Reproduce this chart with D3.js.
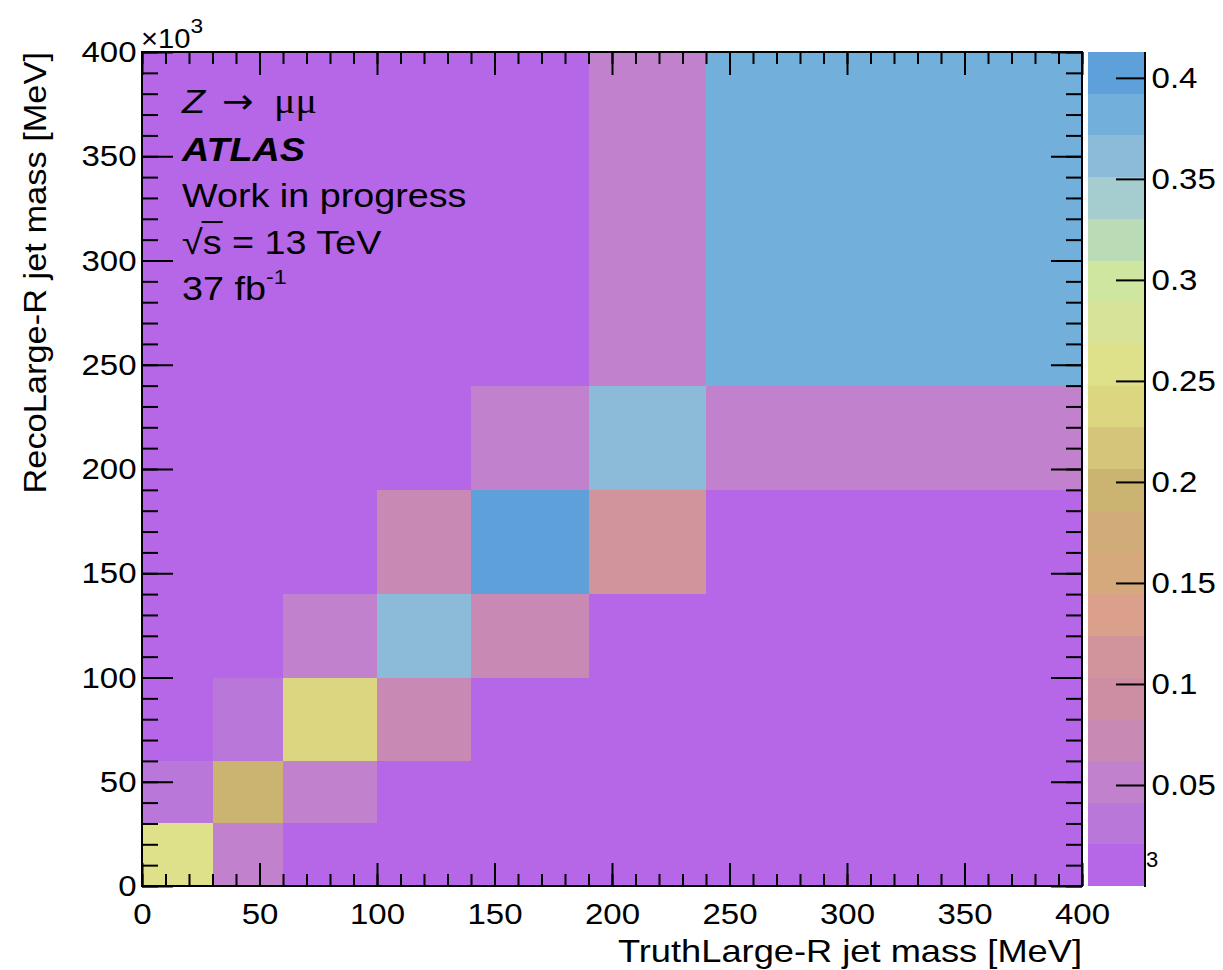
<!DOCTYPE html>
<html>
<head>
<meta charset="utf-8">
<script src="https://cdn.jsdelivr.net/npm/d3@7"></script>
<style>
  html, body { margin: 0; padding: 0; background: #fff; }
  svg { display: block; font-family: "Liberation Sans", Arial, Helvetica, sans-serif; }
</style>
</head>
<body>
<svg id="chart" width="1223" height="970"></svg>
<script>
// Bin edges of the response matrix (in units of 10^3 MeV)
const truthEdges = [0, 30, 60, 100, 140, 190, 240, 400];
const recoEdges  = [0, 30, 60, 100, 140, 190, 240, 400];

// Normalised bin contents, one row per reco bin (bottom to top), columns = truth bins
const row0 = [0.258, 0.052, 0, 0, 0, 0, 0];
const row1 = [0.032, 0.196, 0.052, 0, 0, 0, 0];
const row2 = [0, 0.032, 0.238, 0.072, 0, 0, 0];
const row3 = [0, 0, 0.052, 0.361, 0.072, 0, 0];
const row4 = [0, 0, 0, 0.072, 0.4128, 0.112, 0];
const row5 = [0, 0, 0, 0, 0.052, 0.361, 0.052];
const row6 = [0, 0, 0, 0, 0, 0.052, 0.382];
const responseRows = [row0, row1, row2, row3, row4, row5, row6];

// Axis tick labels
const axisTicks = [0, 50, 100, 150, 200, 250, 300, 350, 400];
const zTicks = [0.05, 0.1, 0.15, 0.2, 0.25, 0.3, 0.35, 0.4];

// 20-level contour palette, lowest level first
const palette = [
  "#b567e7", "#b977da", "#c281cc", "#c88ab5", "#cd8ea4",
  "#d1949c", "#daa08b", "#d6a97c", "#d0ad78", "#cbb371",
  "#d5c57a", "#ddd680", "#dfe08a", "#d7e398", "#cfe6a1",
  "#b9dcb7", "#a5cdcf", "#8cbbd9", "#72afda", "#5da0da"
];

const svg = d3.select("#chart");
const plot = { left: 142, right: 1082, top: 52, bottom: 886 };
const bar = { left: 1088, right: 1145 };

const x = d3.scaleLinear().domain([0, 400]).range([plot.left, plot.right]);
const y = d3.scaleLinear().domain([0, 400]).range([plot.bottom, plot.top]);

const zMax = d3.max(responseRows.flat());
const color = d3.scaleQuantize().domain([0, zMax]).range(palette);
const z = d3.scaleLinear().domain([0, zMax]).range([plot.bottom, plot.top]);

// --- cells ---
const cells = [];
responseRows.forEach((row, i) => {
  row.forEach((v, j) => {
    cells.push({ x0: truthEdges[j], x1: truthEdges[j + 1], y0: recoEdges[i], y1: recoEdges[i + 1], v });
  });
});

svg.append("g")
  .selectAll("rect")
  .data(cells)
  .join("rect")
  .attr("x", d => x(d.x0))
  .attr("y", d => y(d.y1))
  .attr("width", d => x(d.x1) - x(d.x0))
  .attr("height", d => y(d.y0) - y(d.y1))
  .attr("fill", d => color(d.v))
  .attr("shape-rendering", "crispEdges");

// --- axes ---
const minorTicks = d3.range(0, 401, 10);
const tickFont = 30;
const stretch = "scale(1.1,1)";

function styleAxis(g) {
  g.select(".domain").remove();
  g.selectAll("line").attr("stroke", "#000").attr("stroke-width", 2);
  g.attr("font-size", tickFont).attr("font-family", null);
  g.selectAll("text").attr("transform", stretch);
}

// bottom
svg.append("g").attr("transform", `translate(0,${plot.bottom})`)
  .call(d3.axisBottom(x).tickValues(minorTicks).tickSize(-12).tickFormat(""))
  .call(styleAxis);
svg.append("g").attr("transform", `translate(0,${plot.bottom})`)
  .call(d3.axisBottom(x).tickValues(axisTicks).tickSize(-23).tickPadding(17).tickFormat(d3.format("d")))
  .call(styleAxis);
// top
svg.append("g").attr("transform", `translate(0,${plot.top})`)
  .call(d3.axisTop(x).tickValues(minorTicks).tickSize(-12).tickFormat(""))
  .call(styleAxis);
svg.append("g").attr("transform", `translate(0,${plot.top})`)
  .call(d3.axisTop(x).tickValues(axisTicks).tickSize(-23).tickFormat(""))
  .call(styleAxis);
// left
svg.append("g").attr("transform", `translate(${plot.left},0)`)
  .call(d3.axisLeft(y).tickValues(minorTicks).tickSize(-16).tickFormat(""))
  .call(styleAxis);
svg.append("g").attr("transform", `translate(${plot.left},0)`)
  .call(d3.axisLeft(y).tickValues(axisTicks).tickSize(-31).tickPadding(5).tickFormat(d3.format("d")))
  .call(styleAxis);
// right
svg.append("g").attr("transform", `translate(${plot.right},0)`)
  .call(d3.axisRight(y).tickValues(minorTicks).tickSize(-16).tickFormat(""))
  .call(styleAxis);
svg.append("g").attr("transform", `translate(${plot.right},0)`)
  .call(d3.axisRight(y).tickValues(axisTicks).tickSize(-31).tickFormat(""))
  .call(styleAxis);

// frame
svg.append("rect")
  .attr("x", plot.left).attr("y", plot.top)
  .attr("width", plot.right - plot.left).attr("height", plot.bottom - plot.top)
  .attr("fill", "none").attr("stroke", "#000").attr("stroke-width", 2);

// exponent on the y axis
const expo = svg.append("text").attr("transform", "translate(141,48) scale(1.08,1)").attr("font-size", 27);
expo.append("tspan").text("×10");
expo.append("tspan").attr("font-size", 21).attr("dy", -15).text("3");

// axis titles
svg.append("text")
  .attr("transform", `translate(${plot.right},962) scale(1.17,1)`)
  .attr("text-anchor", "end").attr("font-size", 31)
  .text("TruthLarge-R jet mass [MeV]");
svg.append("text")
  .attr("transform", `translate(46,${plot.top}) rotate(-90) scale(1.11,1)`)
  .attr("text-anchor", "end").attr("font-size", 31)
  .text("RecoLarge-R jet mass [MeV]");

// --- colour scale ---
const levels = d3.range(palette.length).map(k => ({
  lo: k * zMax / palette.length,
  hi: (k + 1) * zMax / palette.length,
  c: palette[k]
}));
svg.append("g")
  .selectAll("rect")
  .data(levels)
  .join("rect")
  .attr("x", bar.left)
  .attr("y", d => z(d.hi))
  .attr("width", bar.right - bar.left)
  .attr("height", d => z(d.lo) - z(d.hi))
  .attr("fill", d => d.c)
  .attr("shape-rendering", "crispEdges");

svg.append("g").attr("transform", `translate(${bar.right},0)`)
  .call(d3.axisRight(z).tickValues(zTicks).tickSize(-29).tickPadding(6).tickFormat(d3.format("~g")))
  .call(styleAxis);
svg.append("line")
  .attr("x1", bar.right).attr("x2", bar.right)
  .attr("y1", plot.top).attr("y2", plot.bottom + 1)
  .attr("stroke", "#000").attr("stroke-width", 2);

svg.append("text").attr("x", 1146).attr("y", 867).attr("font-size", 22).text("3");

// --- labels inside the frame ---
const labelX = 182;
const labelFont = 34;
const labelStretch = 1.11;

function labelLine(baseline) {
  return svg.append("g")
    .attr("transform", `translate(${labelX},${baseline}) scale(${labelStretch},1)`)
    .attr("font-size", labelFont);
}

// Z -> mu mu
const l1 = labelLine(113);
l1.append("text").attr("font-style", "italic").text("Z");
l1.append("text").attr("x", 36).attr("font-family", "'DejaVu Sans', sans-serif").attr("font-size", 34).text("→");
l1.append("text").attr("x", 83).attr("font-family", "'Liberation Serif', 'DejaVu Serif', serif").attr("font-size", 36).text("μμ");

labelLine(161).append("text").attr("font-weight", "bold").attr("font-style", "italic").text("ATLAS");
labelLine(207).append("text").text("Work in progress");

// sqrt(s) = 13 TeV
const l4 = labelLine(254);
const sq = l4.append("text").text("√s = 13 TeV");
const sNode = sq.node();
const sStart = sNode.getEndPositionOfChar(0).x;
const sEnd = sNode.getEndPositionOfChar(1).x;
l4.append("line")
  .attr("x1", sStart - 1).attr("x2", sEnd + 1)
  .attr("y1", -0.94 * labelFont).attr("y2", -0.94 * labelFont)
  .attr("stroke", "#000").attr("stroke-width", 2);

// luminosity
const l5 = labelLine(300).append("text");
l5.append("tspan").text("37 fb");
l5.append("tspan").attr("font-size", 21).attr("dy", -16).text("-1");
</script>
</body>
</html>
